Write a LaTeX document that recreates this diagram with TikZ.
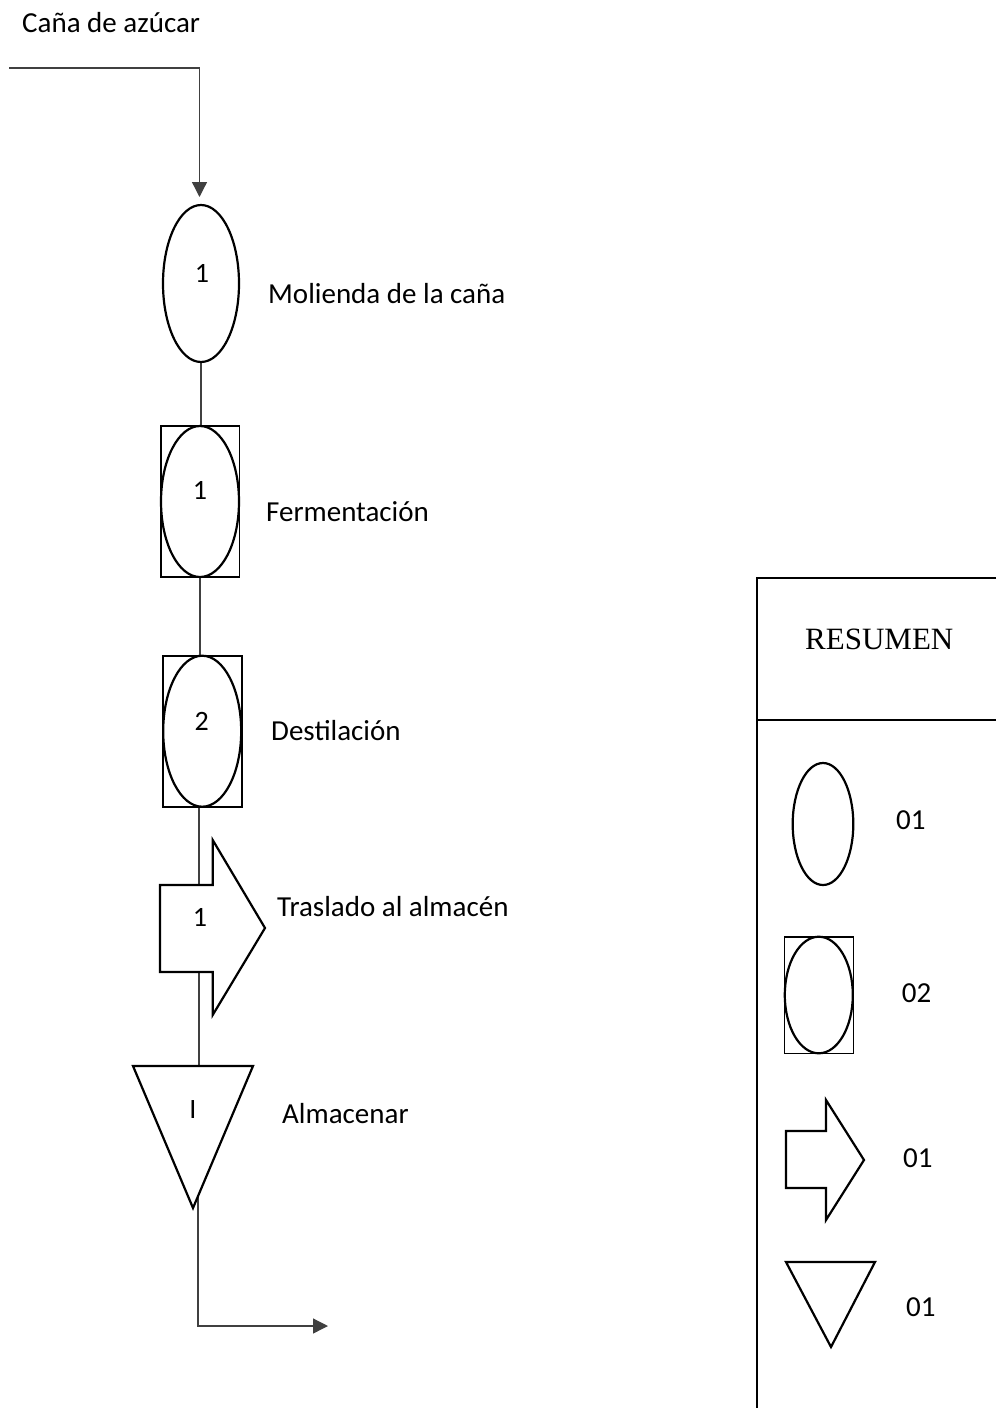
\documentclass[tikz,border=0pt]{standalone}
\usepackage{fontspec}
\setmainfont{Carlito}
\newfontfamily\serifres{Liberation Serif}
\usetikzlibrary{shapes.geometric,arrows.meta}
\pgfdeclarelayer{bg}
\pgfsetlayers{bg,main}
\begin{document}
\begin{tikzpicture}[x=1pt,y=-1pt,
  shp/.style={draw=black,line width=2.2pt,fill=white,line join=miter},
  ell/.style={ellipse,draw=black,line width=2.2pt,fill=white,inner sep=0pt},
  boxr/.style={rectangle,draw=black,line width=1.6pt,fill=white,inner sep=0pt},
  conn/.style={line width=1.3pt,draw=black!75},
  tip/.style={-{Triangle[length=15pt,width=15pt]}},
  lbl/.style={font=\fontsize{29}{34}\selectfont,inner sep=0pt,anchor=base west},
  num/.style={font=\fontsize{28}{34}\selectfont,inner sep=0pt,anchor=base},
  panel/.style={line width=1.8pt,draw=black}]
\useasboundingbox (0,0) rectangle (996,1408);

% title
\node[lbl] (title) at (22,32) {Caña de azúcar};

% step 1: operation
\node[ell,minimum width=76pt,minimum height=157pt] (e1) at (201,283.5) {};
\node[num] (n1) at (202,282) {1};
\node[lbl] (l1) at (268,303) {Molienda de la caña};

% step 2: combined
\node[boxr,minimum width=78.6pt,minimum height=151pt] (b2) at (200,501.5) {};
\node[ell,minimum width=78pt,minimum height=151pt] (e2) at (200,501.5) {};
\node[num] (n2) at (200,499) {1};
\node[lbl] (l2) at (266,521) {Fermentación};

% step 3: combined
\node[boxr,minimum width=79pt,minimum height=151pt] (b3) at (202.2,731.2) {};
\node[ell,minimum width=78pt,minimum height=151pt] (e3) at (202.2,731.2) {};
\node[num] (n3) at (201.7,730) {2};
\node[lbl] (l3) at (271,740) {Destilación};

% step 4: transport arrow
\draw[shp] (160,885) -- (212.7,885) -- (212.7,840) -- (265,928) -- (212.7,1015) -- (212.7,972) -- (160,972) -- cycle;
\node[num] (n4) at (200,926) {1};
\node[lbl] (l4) at (277,916) {Traslado al almacén};

% step 5: storage triangle
\draw[shp] (133,1066) -- (253,1066) -- (193,1208) -- cycle;
\node[num] (n5) at (193,1118) {I};
\node[lbl] (l5) at (282,1123) {Almacenar};

% coordinates for connectors
\coordinate (start) at (9,68);
\coordinate (intip) at (199.5,197);
\coordinate (tritop) at (199,1066);
\coordinate (triout) at (198,1196);
\coordinate (outend) at (328,1326);

\begin{pgfonlayer}{bg}
\draw[conn,tip] (start) -| (intip);
\draw[conn] (e1.south) -- (e1.south |- b2.north);
\draw[conn] (b2.south) -- (b2.south |- b3.north);
\draw[conn] (tritop |- b3.south) -- (tritop);
\draw[conn,tip] (triout) |- (outend);
\end{pgfonlayer}

% summary panel
\draw[panel] (996,578) -- (757,578) -- (757,1408);
\draw[panel] (757,720) -- (996,720);
\node[inner sep=0pt,anchor=base west,font=\serifres\fontsize{31}{36}\selectfont] (res) at (805,649) {RESUMEN};

\node[ell,minimum width=60.6pt,minimum height=122pt] (le1) at (823,824) {};
\node[lbl] (c1) at (896,829) {01};

\node[boxr,minimum width=69pt,minimum height=116.6pt] (lb2) at (818.8,995) {};
\node[ell,minimum width=68pt,minimum height=116.6pt] (le2) at (818.8,995) {};
\node[lbl] (c2) at (901.7,1002.7) {02};

\draw[shp] (786,1131) -- (826,1131) -- (826,1100) -- (864,1160) -- (826,1220) -- (826,1188) -- (786,1188) -- cycle;
\node[lbl] (c3) at (903,1167) {01};

\draw[shp] (786,1262) -- (875,1262) -- (831,1347) -- cycle;
\node[lbl] (c4) at (906,1316) {01};
\end{tikzpicture}
\end{document}
